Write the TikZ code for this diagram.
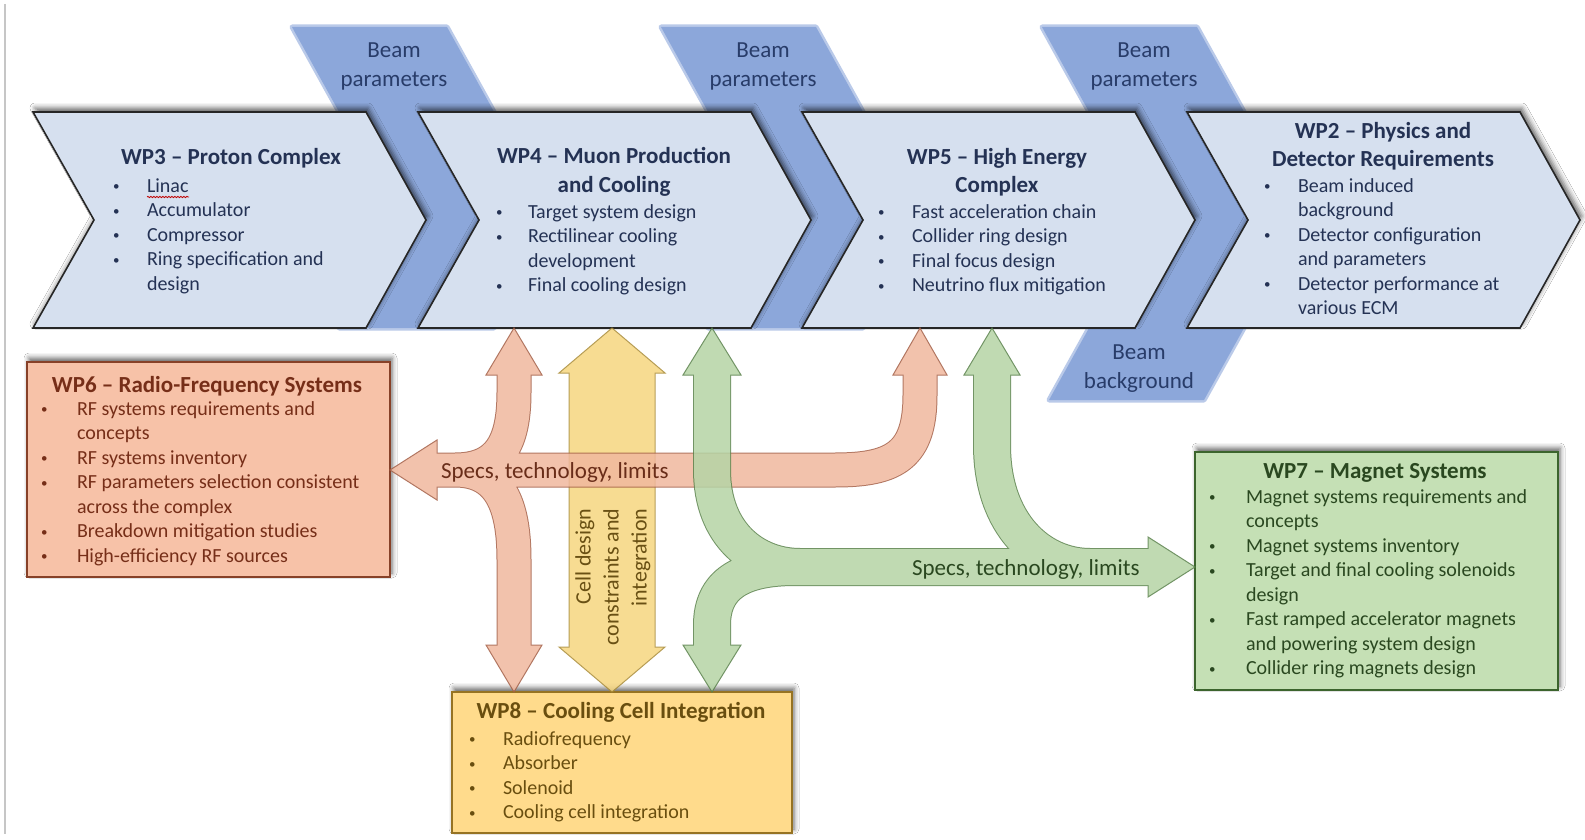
\documentclass[tikz,border=0pt]{standalone}
\usepackage{fontspec}
\setmainfont{Carlito}
\usetikzlibrary{calc,shadows.blur,decorations.pathmorphing}

\definecolor{chevfill}{RGB}{214,224,239}
\definecolor{chevtext}{RGB}{36,50,84}
\definecolor{bandc}{RGB}{140,167,218}
\definecolor{bandtext}{RGB}{40,60,105}
\definecolor{rffill}{RGB}{247,194,168}
\definecolor{rfdraw}{RGB}{135,65,40}
\definecolor{rftext}{RGB}{118,46,24}
\definecolor{orfill}{RGB}{240,184,158}
\definecolor{ordraw}{RGB}{165,95,70}
\definecolor{ortext}{RGB}{105,45,25}
\definecolor{yefill}{RGB}{246,214,128}
\definecolor{yedraw}{RGB}{170,140,55}
\definecolor{yetext}{RGB}{105,80,20}
\definecolor{ccfill}{RGB}{255,219,140}
\definecolor{ccdraw}{RGB}{150,115,35}
\definecolor{cctext}{RGB}{105,78,15}
\definecolor{grfill}{RGB}{181,212,165}
\definecolor{grdraw}{RGB}{90,130,75}
\definecolor{grtext}{RGB}{42,72,32}
\definecolor{mgfill}{RGB}{197,224,181}
\definecolor{mgdraw}{RGB}{60,100,45}

\newlength\bulind
\newcommand\wpb[1]{\makebox[\bulind][l]{\hspace*{1pt}\raisebox{1.5pt}{\fontsize{13}{13}\selectfont\textbullet}}#1}
\newcommand\wpc[1]{\hspace*{\bulind}#1}
\newcommand\wptitlefont{\fontsize{23}{29}\selectfont\bfseries}
\newcommand\wplistfont{\fontsize{20}{24.5}\selectfont}

\begin{document}
\begin{tikzpicture}[x=1pt,y=-1pt,
  every node/.style={inner sep=0pt, outer sep=0pt},
  shadowed/.style={blur shadow={shadow xshift=2pt, shadow yshift=4pt, shadow blur radius=5pt, shadow opacity=60}},
  chev/.style={fill=chevfill, draw=black!85, line width=1.6pt, line join=miter, shadowed},
  box/.style={rectangle, line width=1.6pt, shadowed},
  wptitle/.style={anchor=north, font=\wptitlefont},
  wplist/.style={anchor=north west, font=\wplistfont},
  bandlabel/.style={anchor=north, font=\fontsize{23}{28.5}\selectfont, text=bandtext},
  headline/.style={line width=1pt, line join=miter},
  orpath/.style={insert path={
    ($(oB4)+(0,-6)$) -- (oU4) .. controls +(0,50) and +(45,0) .. (oJ)
    (oJ) .. controls +(45,0) and +(0,-55) .. (oL8) -- ($(oB8)+(0,6)$)
    ($(oB6)+(-6,0)$) -- (oC) .. controls +(60,0) and +(0,60) .. (oU5) -- ($(oB5)+(0,-6)$)}},
  grpath/.style={insert path={
    ($(gB4)+(0,-6)$) -- (gV4) .. controls +(0,65) and +(-45,0) .. (gJ)
    (gJ2) .. controls +(-55,0) and +(0,-40) .. (gL8) -- ($(gB8)+(0,6)$)
    (gJ2) -- ($(gB7)+(6,0)$)
    ($(gB5)+(0,-6)$) -- (gV5) .. controls +(0,80) and +(-50,0) .. (gJ5)}},
  yepath/.style={insert path={($(yB4)+(0,-6)$) -- ($(yB8)+(0,6)$)}}
]
\useasboundingbox (0,0) rectangle (1585,840);
\fill[white] (0,0) rectangle (1585,840);
\draw[gray!45, line width=1.5pt] (5,4) -- (5,834);

% beam bands (soft edge + body)
\foreach \a in {292,661}{
  \filldraw[bandc!60, line width=5pt, line join=round] (\a,27) -- ({\a+155},27) -- ({\a+262},220) -- ({\a+202},328) -- ({\a+47},328) -- ({\a+107},220) -- cycle;
  \fill[bandc] (\a,27) -- ({\a+155},27) -- ({\a+262},220) -- ({\a+202},328) -- ({\a+47},328) -- ({\a+107},220) -- cycle;
}
\filldraw[bandc!60, line width=5pt, line join=round] (1042,27) -- (1197,27) -- (1304,220) -- (1204,400) -- (1049,400) -- (1149,220) -- cycle;
\fill[bandc] (1042,27) -- (1197,27) -- (1304,220) -- (1204,400) -- (1049,400) -- (1149,220) -- cycle;

\node[bandlabel] (bp1) at (394,38) {\begin{tabular}{@{}c@{}}Beam\\parameters\end{tabular}};
\node[bandlabel] (bp2) at (763,38) {\begin{tabular}{@{}c@{}}Beam\\parameters\end{tabular}};
\node[bandlabel] (bp3) at (1144,38) {\begin{tabular}{@{}c@{}}Beam\\parameters\end{tabular}};
\node[bandlabel] (bb) at (1139,340) {\begin{tabular}{@{}c@{}}Beam\\background\end{tabular}};

% chevrons
\foreach \L in {33,418,802,1187}{
  \filldraw[chev] (\L,112) -- ({\L+333},112) -- ({\L+393},220) -- ({\L+333},328) -- (\L,328) -- ({\L+61},220) -- cycle;
}

% chevron texts
\node[wptitle, text=chevtext] (wp3t) at (231,144.7) {\begin{tabular}{@{}c@{}}WP3 – Proton Complex\end{tabular}};
\node[wplist, text=chevtext] (wp3l) at (112,174.85) {\setlength\bulind{35pt}\begin{tabular}{@{}l@{}}
\wpb{Linac}\\ \wpb{Accumulator}\\ \wpb{Compressor}\\ \wpb{Ring specification and}\\ \wpc{design}\end{tabular}};
\draw[red!75!black, line width=0.8pt, decorate, decoration={snake, amplitude=0.7pt, segment length=3pt}] (147,197) -- (189,197);

\node[wptitle, text=chevtext] (wp4t) at (614,142.7) {\begin{tabular}{@{}c@{}}WP4 – Muon Production\\and Cooling\end{tabular}};
\node[wplist, text=chevtext] (wp4l) at (495,200.85) {\setlength\bulind{33pt}\begin{tabular}{@{}l@{}}
\wpb{Target system design}\\ \wpb{Rectilinear cooling}\\ \wpc{development}\\ \wpb{Final cooling design}\end{tabular}};

\node[wptitle, text=chevtext] (wp5t) at (997,143.7) {\begin{tabular}{@{}c@{}}WP5 – High Energy\\Complex\end{tabular}};
\node[wplist, text=chevtext] (wp5l) at (877,200.85) {\setlength\bulind{35pt}\begin{tabular}{@{}l@{}}
\wpb{Fast acceleration chain}\\ \wpb{Collider ring design}\\ \wpb{Final focus design}\\ \wpb{Neutrino flux mitigation}\end{tabular}};

\node[wptitle, text=chevtext] (wp2t) at (1383,117.7) {\begin{tabular}{@{}c@{}}WP2 – Physics and\\Detector Requirements\end{tabular}};
\node[wplist, text=chevtext] (wp2l) at (1263,174.85) {\setlength\bulind{35pt}\begin{tabular}{@{}l@{}}
\wpb{Beam induced}\\ \wpc{background}\\ \wpb{Detector configuration}\\ \wpc{and parameters}\\ \wpb{Detector performance at}\\ \wpc{various ECM}\end{tabular}};

% boxes
\node[box, fill=rffill, draw=rfdraw, minimum width=363, minimum height=215] (wp6) at (208.5,469.5) {};
\node[box, fill=ccfill, draw=ccdraw, minimum width=340, minimum height=141] (wp8) at (622,762.5) {};
\node[box, fill=mgfill, draw=mgdraw, minimum width=363, minimum height=238] (wp7) at (1376.5,571) {};

\node[wptitle, text=rftext] (wp6t) at (207,371.7) {\begin{tabular}{@{}c@{}}WP6 – Radio-Frequency Systems\end{tabular}};
\node[wplist, text=rftext] (wp6l) at (40,397.85) {\setlength\bulind{37pt}\begin{tabular}{@{}l@{}}
\wpb{RF systems requirements and}\\ \wpc{concepts}\\ \wpb{RF systems inventory}\\ \wpb{RF parameters selection consistent}\\ \wpc{across the complex}\\ \wpb{Breakdown mitigation studies}\\ \wpb{High-efficiency RF sources}\end{tabular}};

\node[wptitle, text=cctext] (wp8t) at (621,697.7) {\begin{tabular}{@{}c@{}}WP8 – Cooling Cell Integration\end{tabular}};
\node[wplist, text=cctext] (wp8l) at (468,727.85) {\setlength\bulind{35pt}\begin{tabular}{@{}l@{}}
\wpb{Radiofrequency}\\ \wpb{Absorber}\\ \wpb{Solenoid}\\ \wpb{Cooling cell integration}\end{tabular}};

\node[wptitle, text=grtext] (wp7t) at (1375,457.7) {\begin{tabular}{@{}c@{}}WP7 – Magnet Systems\end{tabular}};
\node[wplist, text=grtext] (wp7l) at (1208,485.85) {\setlength\bulind{38pt}\begin{tabular}{@{}l@{}}
\wpb{Magnet systems requirements and}\\ \wpc{concepts}\\ \wpb{Magnet systems inventory}\\ \wpb{Target and final cooling solenoids}\\ \wpc{design}\\ \wpb{Fast ramped accelerator magnets}\\ \wpc{and powering system design}\\ \wpb{Collider ring magnets design}\end{tabular}};

% connector coordinates
\coordinate (oT4) at (514,328); \coordinate (oB4) at (514,375); \coordinate (oU4) at (514,392);
\coordinate (oJ) at (455,470);  \coordinate (oL8) at (514,560); \coordinate (oB8) at (514,645);
\coordinate (oT8) at (oB8 |- wp8.north);
\coordinate (oT5) at (920,328); \coordinate (oB5) at (920,375); \coordinate (oU5) at (920,395);
\coordinate (oC) at (835,470);  \coordinate (oB6) at (439,470);
\coordinate (oT6) at (wp6.east |- oC);

\coordinate (gT4) at (712,328); \coordinate (gB4) at (712,375); \coordinate (gV4) at (712,470);
\coordinate (gJ) at (800,567);  \coordinate (gJ2) at (795,567); \coordinate (gL8) at (712,625);
\coordinate (gB8) at (712,645); \coordinate (gT8) at (gB8 |- wp8.north);
\coordinate (gT5) at (992,328); \coordinate (gB5) at (992,375); \coordinate (gV5) at (992,445);
\coordinate (gJ5) at (1090,567); \coordinate (gB7) at (1148,567);
\coordinate (gT7) at (wp7.west |- gJ);

\coordinate (yT4) at (612,328); \coordinate (yB4) at (612,373);
\coordinate (yB8) at (612,647); \coordinate (yT8) at (yB8 |- wp8.north);

% yellow double arrow
\begin{scope}[transparency group, opacity=0.85]
  \draw[line width=87pt, yedraw, yepath];
  \filldraw[headline, fill=yefill, draw=yedraw] (yT4) -- ++(53,45) -- ++(-106,0) -- cycle;
  \filldraw[headline, fill=yefill, draw=yedraw] (yT8) -- ++(53,-45) -- ++(-106,0) -- cycle;
  \draw[line width=85pt, yefill, yepath];
\end{scope}

% orange arrows
\begin{scope}[transparency group, opacity=0.85]
  \draw[line width=35pt, ordraw, orpath];
  \filldraw[headline, fill=orfill, draw=ordraw] (oT4) -- ++(28,47) -- ++(-56,0) -- cycle;
  \filldraw[headline, fill=orfill, draw=ordraw] (oT8) -- ++(28,-47) -- ++(-56,0) -- cycle;
  \filldraw[headline, fill=orfill, draw=ordraw] (oT5) -- ++(27,47) -- ++(-54,0) -- cycle;
  \filldraw[headline, fill=orfill, draw=ordraw] (oT6) -- ++(47,-30) -- ++(0,60) -- cycle;
  \draw[line width=33pt, orfill, orpath];
\end{scope}

% green arrows
\begin{scope}[transparency group, opacity=0.85]
  \draw[line width=38pt, grdraw, grpath];
  \filldraw[headline, fill=grfill, draw=grdraw] (gT4) -- ++(29,47) -- ++(-58,0) -- cycle;
  \filldraw[headline, fill=grfill, draw=grdraw] (gT8) -- ++(29,-47) -- ++(-58,0) -- cycle;
  \filldraw[headline, fill=grfill, draw=grdraw] (gT5) -- ++(28,47) -- ++(-56,0) -- cycle;
  \filldraw[headline, fill=grfill, draw=grdraw] (gT7) -- ++(-47,-30) -- ++(0,60) -- cycle;
  \draw[line width=36pt, grfill, grpath];
\end{scope}

% arrow labels
\node[anchor=base west, font=\fontsize{23}{28}\selectfont, text=ortext] (orlab) at (441,478) {Specs, technology, limits};
\node[anchor=base west, font=\fontsize{23}{28}\selectfont, text=grtext] (grlab) at (912,575) {Specs, technology, limits};
\node[rotate=90, font=\fontsize{22}{28}\selectfont, text=yetext] (yelab) at (613,577) {\begin{tabular}{@{}r@{}}Cell design\\constraints and\\integration\end{tabular}};
\end{tikzpicture}
\end{document}
